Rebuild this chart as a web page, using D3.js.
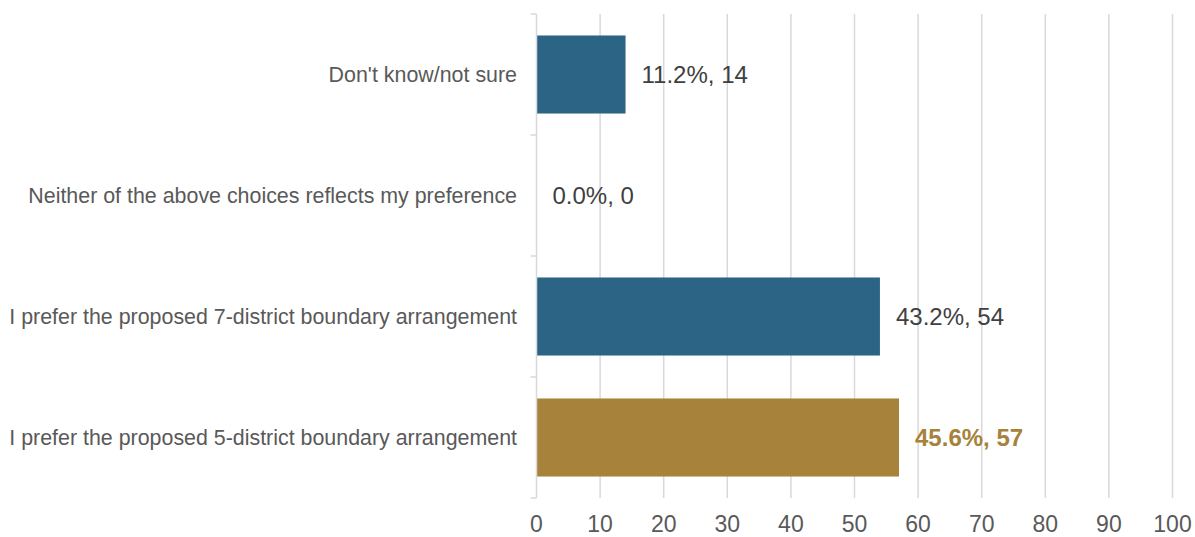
<!DOCTYPE html>
<html>
<head>
<meta charset="utf-8">
<script src="https://cdn.jsdelivr.net/npm/d3@7"></script>
<style>
  html, body { margin: 0; padding: 0; background: #ffffff; }
  svg { display: block; font-family: "Liberation Sans", Arial, sans-serif; }
</style>
</head>
<body>
<svg id="chart" width="1195" height="537"></svg>
<script>
// Survey responses (top to bottom)
const categories = [
  "Don't know/not sure",
  "Neither of the above choices reflects my preference",
  "I prefer the proposed 7-district boundary arrangement",
  "I prefer the proposed 5-district boundary arrangement"
];
const counts = [14, 0, 54, 57];
const percents = [11.2, 0.0, 43.2, 45.6];
const highlighted = [false, false, false, true];
const xTicks = [0, 10, 20, 30, 40, 50, 60, 70, 80, 90, 100];

const svg = d3.select("#chart");
const margin = { left: 536.5, right: 22.5, top: 14, bottom: 39 };
const W = 1195, H = 537;

const x = d3.scaleLinear().domain([0, 100]).range([margin.left, W - margin.right]);
const y = d3.scaleBand().domain(categories).range([margin.top, H - margin.bottom]).paddingInner(0.355).paddingOuter(0.1775);

const blue = "#2c6486", gold = "#a6823b";

// vertical gridlines
svg.append("g").selectAll("line").data(xTicks.slice(1)).join("line")
  .attr("x1", d => x(d)).attr("x2", d => x(d))
  .attr("y1", margin.top).attr("y2", H - margin.bottom)
  .attr("stroke", "#d9d9d9").attr("stroke-width", 1.5);

// bars
svg.append("g").selectAll("rect").data(categories).join("rect")
  .attr("x", x(0))
  .attr("y", d => y(d))
  .attr("width", (d, i) => x(counts[i]) - x(0))
  .attr("height", y.bandwidth())
  .attr("fill", (d, i) => highlighted[i] ? gold : blue);

// category axis with boundary tick marks
const boundaries = [margin.top, ...categories.map(c => y(c) + y.bandwidth() + y.step() * y.paddingInner() / 2)];
boundaries[boundaries.length - 1] = H - margin.bottom;
const axisG = svg.append("g");
axisG.append("line")
  .attr("x1", x(0)).attr("x2", x(0))
  .attr("y1", margin.top).attr("y2", H - margin.bottom)
  .attr("stroke", "#d9d9d9").attr("stroke-width", 1.5);
axisG.selectAll("line.tick").data(boundaries).join("line").attr("class", "tick")
  .attr("x1", x(0) - 6).attr("x2", x(0))
  .attr("y1", d => d).attr("y2", d => d)
  .attr("stroke", "#d9d9d9").attr("stroke-width", 1.5);

// category labels
svg.append("g").selectAll("text").data(categories).join("text")
  .attr("x", 517)
  .attr("y", d => y(d) + y.bandwidth() / 2)
  .attr("dy", "0.35em")
  .attr("text-anchor", "end")
  .attr("font-size", 21.4)
  .attr("fill", "#595959")
  .text(d => d);

// x tick labels
svg.append("g").selectAll("text").data(xTicks).join("text")
  .attr("x", d => x(d))
  .attr("y", 532)
  .attr("text-anchor", "middle")
  .attr("font-size", 23)
  .attr("fill", "#595959")
  .text(d => d);

// value labels
svg.append("g").selectAll("text").data(categories).join("text")
  .attr("x", (d, i) => x(counts[i]) + 16)
  .attr("y", d => y(d) + y.bandwidth() / 2)
  .attr("dy", "0.35em")
  .attr("font-size", 24)
  .attr("font-weight", (d, i) => highlighted[i] ? "bold" : "normal")
  .attr("fill", (d, i) => highlighted[i] ? gold : "#404040")
  .text((d, i) => `${percents[i].toFixed(1)}%, ${counts[i]}`);
</script>
</body>
</html>
